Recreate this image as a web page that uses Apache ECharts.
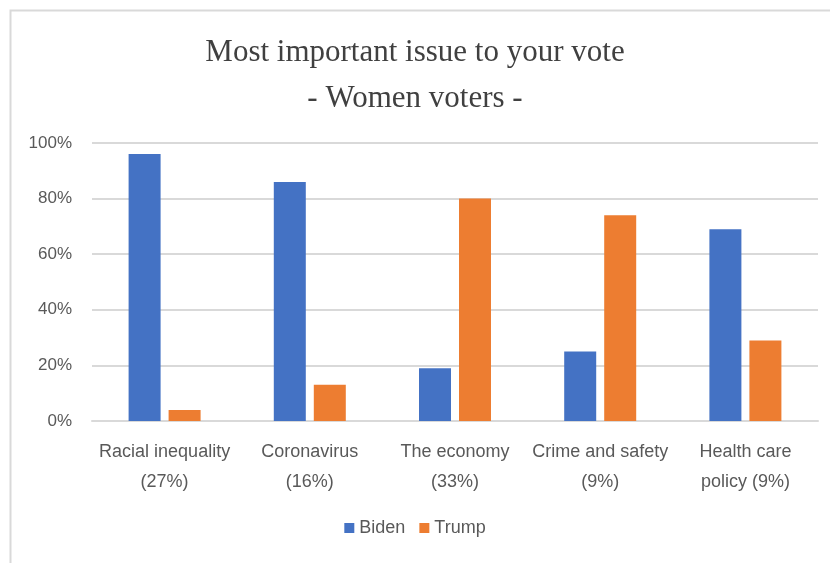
<!DOCTYPE html>
<html>
<head>
<meta charset="utf-8">
<script src="https://cdn.jsdelivr.net/npm/echarts@6/dist/echarts.min.js"></script>
<style>html,body{margin:0;padding:0;background:#fff}#c{width:830px;height:563px}</style>
</head>
<body>
<div id="c"></div>
<script>
var categories = ['Racial inequality\n(27%)', 'Coronavirus\n(16%)', 'The economy\n(33%)', 'Crime and safety\n(9%)', 'Health care\npolicy (9%)'];
var biden = [96, 86, 19, 25, 69];
var trump = [4, 13, 80, 74, 29];
var yTicks = [0, 20, 40, 60, 80, 100];

var chart = echarts.init(document.getElementById('c'));
chart.setOption({
  backgroundColor: '#fff',
  animation: false,
  graphic: [{
    type: 'polyline',
    shape: { points: [[10.5, 563], [10.5, 10.5], [830, 10.5]] },
    style: { stroke: '#d9d9d9', lineWidth: 2, fill: null }
  }],
  title: {
    text: 'Most important issue to your vote\n- Women voters -',
    left: 'center',
    top: 25,
    textStyle: { fontFamily: 'Liberation Serif', fontSize: 31, fontWeight: 'normal', color: '#404040', lineHeight: 46 }
  },
  legend: {
    bottom: 21,
    left: 'center',
    icon: 'rect',
    itemWidth: 10, itemHeight: 10, itemGap: 14,
    textStyle: { fontFamily: 'Liberation Sans', fontSize: 18, color: '#595959' },
    data: ['Biden', 'Trump']
  },
  grid: { left: 92, right: 12, top: 143, bottom: 142, containLabel: false },
  xAxis: {
    type: 'category',
    data: categories,
    axisLine: { lineStyle: { color: '#d9d9d9', width: 2 } },
    axisTick: { show: false },
    axisLabel: { interval: 0, margin: 16, fontFamily: 'Liberation Sans', fontSize: 18, color: '#595959', lineHeight: 30 }
  },
  yAxis: {
    type: 'value',
    min: yTicks[0], max: yTicks[yTicks.length - 1], interval: 20,
    axisLine: { show: false },
    axisTick: { show: false },
    splitLine: { lineStyle: { color: '#d9d9d9', width: 2 } },
    axisLabel: { formatter: '{value}%', margin: 20, fontFamily: 'Liberation Sans', fontSize: 17, color: '#595959' }
  },
  series: [
    { name: 'Biden', type: 'bar', data: biden, barWidth: 32, barGap: '25%', itemStyle: { color: '#4472C4' } },
    { name: 'Trump', type: 'bar', data: trump, barWidth: 32, itemStyle: { color: '#ED7D31' } }
  ]
});
</script>
</body>
</html>
